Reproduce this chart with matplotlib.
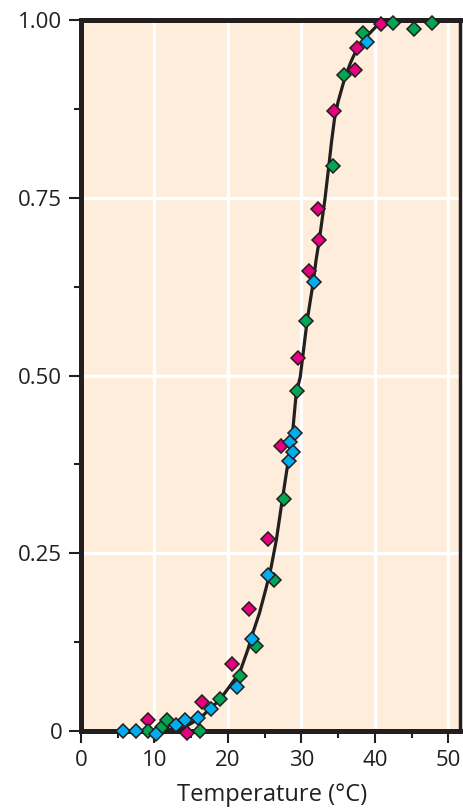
import numpy as np
from matplotlib import pyplot as plt

# readings
pink_x = [9.1, 14.4, 16.5, 20.6, 22.9, 25.4, 27.2, 29.5, 31.1, 32.4, 32.3, 34.5, 37.3, 37.6, 40.9]
pink_y = [0.015, -0.003, 0.041, 0.094, 0.172, 0.270, 0.401, 0.525, 0.647, 0.690, 0.734, 0.872, 0.929, 0.960, 0.994]

green_x = [9.1, 11.0, 11.7, 16.2, 18.9, 21.7, 23.8, 26.3, 27.6, 29.4, 30.7, 34.3, 35.8, 38.4, 42.5, 45.3, 47.8]
green_y = [0.0, 0.005, 0.015, 0.0, 0.045, 0.078, 0.119, 0.213, 0.327, 0.478, 0.577, 0.795, 0.922, 0.982, 0.996, 0.988, 0.996]

blue_x = [5.75, 7.5, 10.2, 12.9, 14.2, 15.9, 17.7, 21.2, 23.3, 25.4, 28.3, 28.5, 28.8, 29.1, 31.7, 39.0]
blue_y = [0.0, 0.0, -0.004, 0.008, 0.016, 0.018, 0.031, 0.062, 0.129, 0.219, 0.380, 0.406, 0.392, 0.419, 0.632, 0.969]

# fitted curve, traced point by point
curve_x = [10.0, 11.1, 13.9, 16.2, 18.9, 21.6, 22.7, 23.4, 24.3, 25.2, 25.9, 26.6, 27.3, 28.2, 28.8,
           29.3, 29.85, 30.8, 31.6, 32.0, 32.5, 33.2, 33.8, 34.1, 34.5, 35.0, 35.9, 36.7, 37.5, 38.8, 40.2, 40.9, 42.0, 51.6]
curve_y = [0.0, 0.001, 0.004, 0.018, 0.044, 0.082, 0.114, 0.138, 0.166, 0.201, 0.231, 0.269, 0.318, 0.379, 0.419,
           0.475, 0.498, 0.578, 0.630, 0.662, 0.695, 0.747, 0.800, 0.828, 0.860, 0.885, 0.918, 0.940, 0.958, 0.976, 0.991, 0.995, 1.0, 1.0]

x_ticks = [0, 10, 20, 30, 40, 50]
y_ticks = [0, 0.25, 0.5, 0.75, 1.0]
y_labels = ["0", "0.25", "0.50", "0.75", "1.00"]

dark = "#231F20"
plt.rcParams['font.family'] = ['Open Sans', 'DejaVu Sans']

fig = plt.figure(figsize=(4.63, 8.10), dpi=100)
ax = fig.add_axes([81/463, 79/810, (460-81)/463, (731-20)/810])
ax.set_facecolor("#FEEDDA")

ax.plot(curve_x, curve_y, color=dark, lw=2.3, zorder=3)
for xs, ys, c in [(pink_x, pink_y, "#E6007E"), (green_x, green_y, "#00A651"), (blue_x, blue_y, "#00AEEF")]:
    ax.plot(xs, ys, 'D', ms=6.8, mfc=c, mec=dark, mew=1.1, clip_on=False, zorder=5)

ax.set_xlim(0, 51.6)
ax.set_ylim(0, 1)
ax.set_xticks(x_ticks)
ax.set_xticks(np.arange(5, 51, 10), minor=True)
ax.set_yticks(y_ticks)
ax.set_yticklabels(y_labels)
ax.set_yticks(np.arange(0.125, 1, 0.25), minor=True)

ax.grid(True, color="white", lw=2.4)
ax.grid(False, which="minor")
ax.set_axisbelow(True)

ax.tick_params(which="major", length=8.5, width=1.5, color=dark, labelsize=16, labelcolor=dark, pad=5)
ax.tick_params(which="minor", length=5, width=1.5, color=dark)

for side in ["left", "top", "bottom"]:
    ax.spines[side].set_linewidth(3.6)
    ax.spines[side].set_color(dark)
ax.spines["right"].set_linewidth(2.5)
ax.spines["right"].set_color(dark)

ax.set_xlabel("Temperature (°C)", fontsize=17, color=dark)
ax.xaxis.set_label_coords(0.505, -0.073)

fig.savefig("out.png", dpi=100)
